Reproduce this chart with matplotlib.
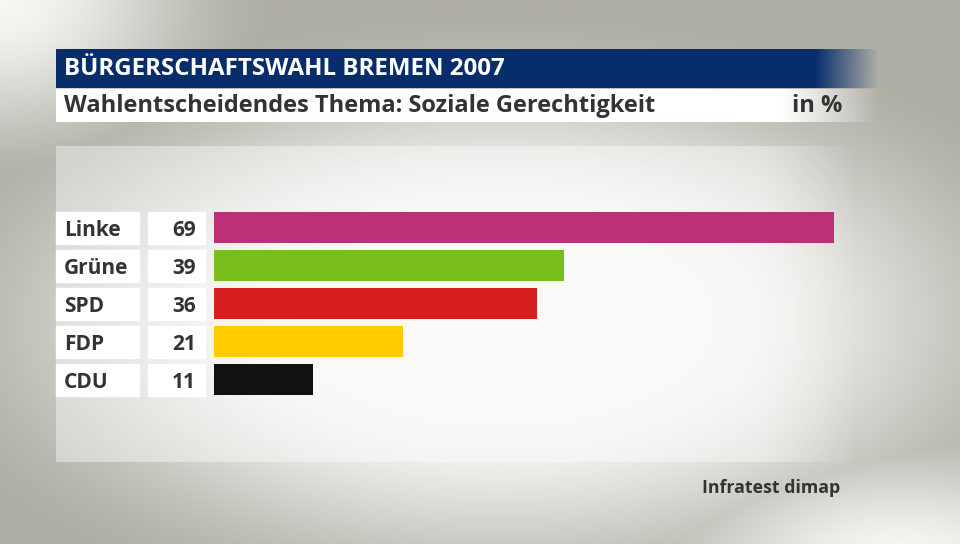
import numpy as np
import matplotlib.pyplot as plt
from matplotlib.patches import Rectangle

# data
parties = ["Linke", "Grüne", "SPD", "FDP", "CDU"]
values = [69, 39, 36, 21, 11]
colors = ["#be3075", "#78be1e", "#d71f1f", "#ffcc00", "#111111"]

title = "BÜRGERSCHAFTSWAHL BREMEN 2007"
subtitle = "Wahlentscheidendes Thema: Soziale Gerechtigkeit"
unit = "in %"
source = "Infratest dimap"

plt.rcParams['font.family'] = ['Open Sans', 'DejaVu Sans']
W, H = 960, 544
fig = plt.figure(figsize=(W / 100, H / 100), dpi=100)

# background axes in pixel coordinates
bg = fig.add_axes([0, 0, 1, 1])
bg.set_xlim(0, W)
bg.set_ylim(H, 0)
bg.axis('off')

yy, xx = np.mgrid[0:H, 0:W]
d = np.sqrt(((xx - 500) / 560.0) ** 2 + ((yy - 320) / 280.0) ** 2)
light = np.clip(1.45 - 1.3 * d, 0, 1)
corner = np.clip(1 - np.sqrt((xx / 280.0) ** 2 + (yy / 200.0) ** 2), 0, 1)
bottom = np.clip(1 - np.sqrt(((xx - 900) / 340.0) ** 2 + ((yy - 560) / 160.0) ** 2), 0, 1)
t = np.maximum(np.maximum(light, corner), bottom)
t = t * t * (3 - 2 * t)
dark = np.array([0.69, 0.686, 0.655])
bright = np.array([0.965, 0.97, 0.955])
img = dark + (bright - dark) * t[..., None]
bg.imshow(img, extent=[0, W, H, 0], aspect='auto', zorder=0)

# lighter panel behind the bars
panel = np.zeros((1, 200, 4))
panel[..., :3] = 1.0
panel[..., 3] = np.concatenate([np.full(175, 0.4), np.linspace(0.4, 0, 25)])
bg.imshow(panel, extent=[56, 860, 462, 146], aspect='auto', zorder=1)

# title bar with fade at the right end
blue = np.array([0.035, 0.18, 0.42])
tb = np.zeros((1, 300, 4))
tb[..., :3] = blue
tb[..., 3] = np.concatenate([np.ones(276), np.linspace(1, 0, 24)])
bg.imshow(tb, extent=[56, 880, 88, 49], aspect='auto', zorder=2)
sb = np.zeros((1, 300, 4))
sb[..., :3] = 1.0
sb[..., 3] = np.concatenate([np.ones(264), np.linspace(1, 0, 36)])
bg.imshow(sb, extent=[56, 880, 122, 89], aspect='auto', zorder=2)

bg.text(64, 69, title, color='white', fontsize=17.4, fontweight='bold',
        va='center', ha='left', zorder=3)
bg.text(64, 106, subtitle, color='#333333', fontsize=17.0, fontweight='bold',
        va='center', ha='left', zorder=3)
bg.text(842, 106, unit, color='#333333', fontsize=17.0, fontweight='bold',
        va='center', ha='right', zorder=3)
bg.text(840, 488, source, color='#333333', fontsize=12.8, fontweight='bold',
        va='center', ha='right', zorder=3)

# label and value boxes
row0, step = 212, 38
for i, (p, v) in enumerate(zip(parties, values)):
    y0 = row0 + i * step
    bg.add_patch(Rectangle((56, y0), 83, 32, color='white', zorder=3))
    bg.add_patch(Rectangle((148, y0), 57, 32, color='white', zorder=3))
    bg.text(64, y0 + 18, p, color='#333333', fontsize=15, fontweight='bold',
            va='center', ha='left', zorder=4)
    bg.text(196, y0 + 18, str(v), color='#333333', fontsize=15, fontweight='bold',
            va='center', ha='right', zorder=4)

# bar axes
x_left, x_right = 214, 834
y_top, y_bot = 208, 208 + 5 * step
ax = fig.add_axes([x_left / W, (H - y_bot) / H, (x_right - x_left) / W, (y_bot - y_top) / H])
ax.barh(range(len(parties)), values, height=31 / step, color=colors, align='center')
ax.set_xlim(0, max(values))
ax.set_ylim(len(parties) - 0.5, -0.5)
ax.axis('off')
ax.patch.set_alpha(0)

fig.savefig("out.png", dpi=100)
